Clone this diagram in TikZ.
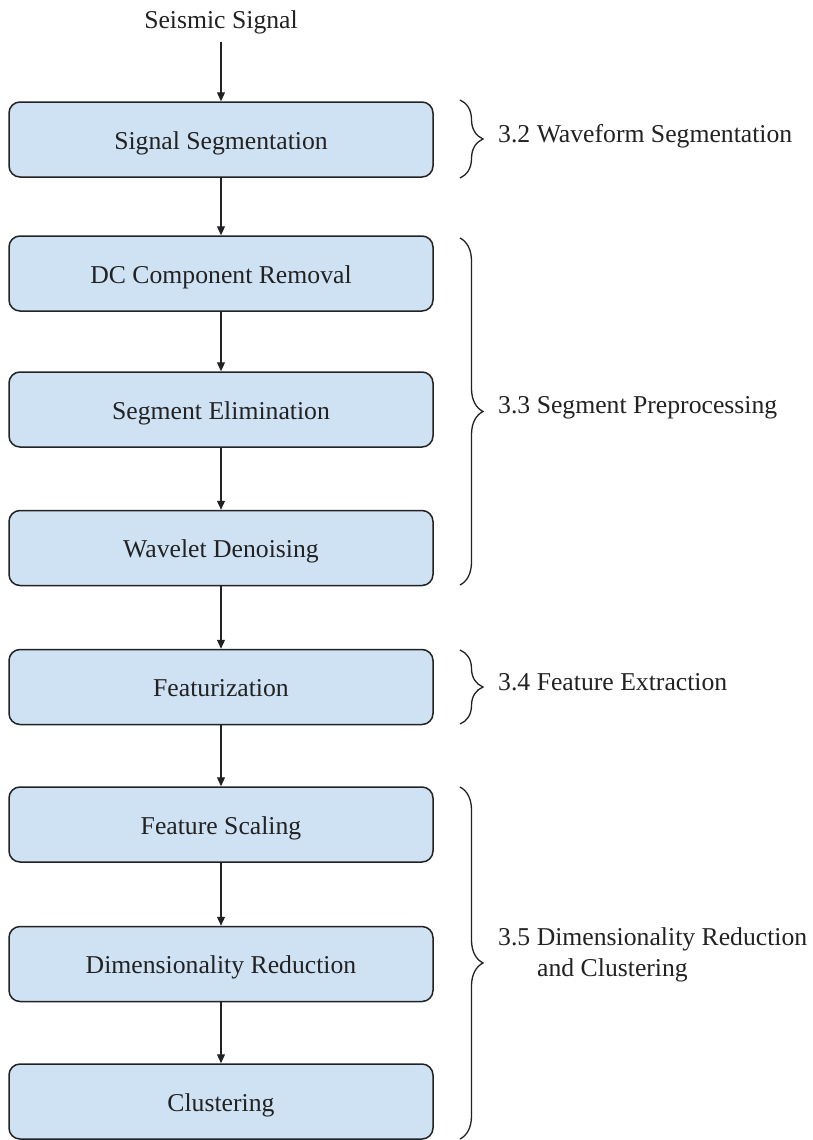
\documentclass[tikz,border=0pt]{standalone}
\usepackage{fontspec}
\setmainfont{Liberation Serif}
\usetikzlibrary{arrows.meta,decorations.pathreplacing}
\definecolor{boxblue}{HTML}{CFE2F3}
\definecolor{ink}{HTML}{222222}
\begin{document}
\begin{tikzpicture}[x=1pt,y=-1pt,
  stepbox/.style={draw=ink,line width=1.5pt,fill=boxblue,rounded corners=11pt,
    minimum width=424pt,minimum height=75pt,inner sep=0pt,text=ink,
    text height=22pt,text depth=3pt,
    font=\fontsize{25.7}{31}\selectfont},
  flow/.style={draw=ink,line width=1.2pt,-{Triangle[length=9pt,width=8pt]}},
  grp/.style={draw=ink,line width=1.3pt,decorate,decoration={brace,amplitude=23pt,aspect=0.5}},
  lbl/.style={anchor=base west,inner sep=0pt,text=ink,font=\fontsize{25.7}{31}\selectfont}]
\useasboundingbox (0,0) rectangle (812,1140);
\fill[white] (0,0) rectangle (812,1140);

\node[inner sep=0pt,anchor=base,text=ink,font=\fontsize{25.7}{31}\selectfont] (in) at (221,29) {Seismic Signal};
\coordinate (inb) at (221,42);

\node[stepbox] (s1) at (221,139.5) {Signal Segmentation};
\node[stepbox] (s2) at (221,273.5) {DC Component Removal};
\node[stepbox] (s3) at (221,409.5) {Segment Elimination};
\node[stepbox] (s4) at (221,548) {Wavelet Denoising};
\node[stepbox] (s5) at (221,687) {Featurization};
\node[stepbox] (s6) at (221,824.5) {Feature Scaling};
\node[stepbox] (s7) at (221,964) {Dimensionality Reduction};
\node[stepbox] (s8) at (221,1101.5) {Clustering};

\draw[flow] (inb) -- (s1.north);
\draw[flow] (s1) -- (s2);
\draw[flow] (s2) -- (s3);
\draw[flow] (s3) -- (s4);
\draw[flow] (s4) -- (s5);
\draw[flow] (s5) -- (s6);
\draw[flow] (s6) -- (s7);
\draw[flow] (s7) -- (s8);

\coordinate (b1t) at (460,100);  \coordinate (b1b) at (460,178);
\coordinate (b2t) at (460,238);  \coordinate (b2b) at (460,585);
\coordinate (b3t) at (460,650);  \coordinate (b3b) at (460,724);
\coordinate (b4t) at (460,787);  \coordinate (b4b) at (460,1139);
\draw[grp] (b1t) -- (b1b);
\draw[grp] (b2t) -- (b2b);
\draw[grp] (b3t) -- (b3b);
\draw[grp] (b4t) -- (b4b);

\node[lbl] (l1) at (498,142) {3.2 Waveform Segmentation};
\node[lbl] (l2) at (498,413) {3.3 Segment Preprocessing};
\node[lbl] (l3) at (498,690) {3.4 Feature Extraction};
\node[lbl] (l4a) at (498,945) {3.5 Dimensionality Reduction};
\node[lbl] (l4b) at (537,976) {and Clustering};
\end{tikzpicture}
\end{document}
